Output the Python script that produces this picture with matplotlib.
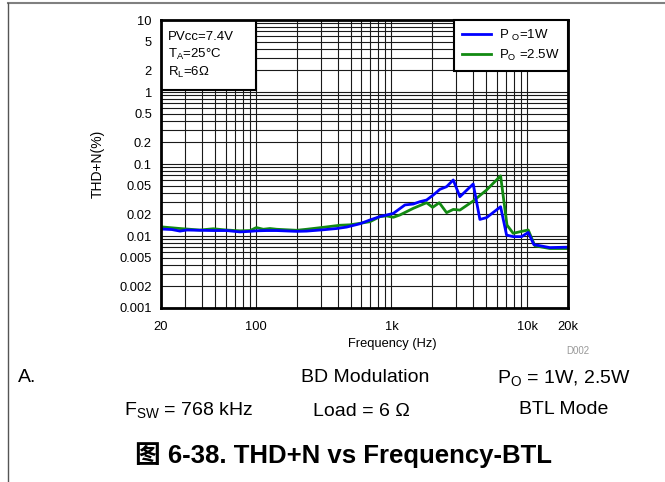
import matplotlib
matplotlib.use("Agg")
import matplotlib.pyplot as plt
from matplotlib.ticker import FixedLocator, LogLocator, NullFormatter
from matplotlib.patches import Rectangle
from matplotlib.lines import Line2D

plt.rcParams['font.family'] = ['Liberation Sans', 'DejaVu Sans']
plt.rcParams['mathtext.fontset'] = 'custom'
plt.rcParams['mathtext.rm'] = 'Liberation Sans'
plt.rcParams['mathtext.it'] = 'Liberation Sans'
plt.rcParams['mathtext.default'] = 'regular'

# THD+N vs frequency, Po = 1 W
freq_1w = [20, 24, 27.6, 31, 38.7, 48.6, 60.9, 76.4, 90.5, 101, 120, 142.5, 200, 237,
           297, 314, 394, 467, 586, 694, 822, 1031, 1256, 1446, 1621, 1814, 2032,
           2275, 2547, 2852, 3193, 4002, 4483, 5020, 6370, 7050, 7890, 9100, 10190,
           11200, 14700, 20000]
thd_1w = [0.0125, 0.0123, 0.0117, 0.0121, 0.0120, 0.0119, 0.0119, 0.0114, 0.0116,
          0.0118, 0.0119, 0.0119, 0.0116, 0.0117, 0.0121, 0.0122, 0.0127, 0.0133,
          0.0148, 0.0167, 0.0186, 0.0206, 0.0270, 0.0278, 0.0300, 0.0316, 0.0371,
          0.0445, 0.0484, 0.0600, 0.0351, 0.0528, 0.0170, 0.0180, 0.0255, 0.0103,
          0.0098, 0.0098, 0.0112, 0.0076, 0.0069, 0.0070]

# Po = 2.5 W
freq_25w = [20, 27.6, 38.7, 48.6, 60.9, 76.4, 90.5, 101, 113.5, 127, 142.5, 200, 237,
            314, 417, 494, 586, 694, 822, 921, 1031, 1154, 1446, 1814, 2010, 2250,
            2547, 2852, 3193, 4002, 5020, 6370, 7100, 7890, 9100, 10190, 11400,
            14700, 20000]
thd_25w = [0.0134, 0.0127, 0.0121, 0.0126, 0.0121, 0.0118, 0.0119, 0.0131, 0.0124,
           0.0127, 0.0124, 0.0120, 0.0124, 0.0132, 0.0141, 0.0143, 0.0150, 0.0158,
           0.0186, 0.0190, 0.0182, 0.0196, 0.0242, 0.0290, 0.0250, 0.0290, 0.0211,
           0.0234, 0.0229, 0.0306, 0.0435, 0.0685, 0.0142, 0.0109, 0.0116, 0.0121,
           0.0073, 0.0067, 0.0067]

x_ticks = [20, 100, 1000, 10000, 20000]
x_labels = ['20', '100', '1k', '10k', '20k']
y_ticks = [0.001, 0.002, 0.005, 0.01, 0.02, 0.05, 0.1, 0.2, 0.5, 1, 2, 5, 10]
y_labels = ['0.001', '0.002', '0.005', '0.01', '0.02', '0.05', '0.1', '0.2', '0.5',
            '1', '2', '5', '10']

W, H = 665, 482


def fx(x):
    return x / W


def fy(y):
    return 1 - y / H


fig = plt.figure(figsize=(W / 100, H / 100), dpi=100)
ax = fig.add_axes([161 / W, (H - 308) / H, 407 / W, 288 / H])

ax.plot(freq_1w, thd_1w, color='#0000ff', lw=2, label=r'P $\mathregular{{}_O}$=1W', zorder=4)
ax.plot(freq_25w, thd_25w, color='#128a12', lw=2, label=r'P$\mathregular{{}_O}$ =2.5W', zorder=3)

ax.set_xscale('log')
ax.set_yscale('log')
ax.set_xlim(20, 20000)
ax.set_ylim(0.001, 10)

ax.xaxis.set_major_locator(FixedLocator(x_ticks))
ax.set_xticklabels(x_labels)
ax.xaxis.set_minor_locator(LogLocator(base=10, subs=range(2, 10), numticks=20))
ax.xaxis.set_minor_formatter(NullFormatter())
ax.yaxis.set_major_locator(FixedLocator(y_ticks))
ax.set_yticklabels(y_labels)
ax.yaxis.set_minor_locator(LogLocator(base=10, subs=range(2, 10), numticks=20))
ax.yaxis.set_minor_formatter(NullFormatter())

ax.grid(True, which='both', color='#1a1a1a', lw=0.8)
ax.tick_params(which='both', length=0, labelsize=9.3)
ax.tick_params(axis='x', pad=9)
ax.tick_params(axis='y', pad=6.5)
for s in ax.spines.values():
    s.set_linewidth(2)
    s.set_color('black')
    s.set_zorder(6)

# condition box, upper left
ax.add_patch(Rectangle((0, 1 - 70 / 288), 95 / 407, 70 / 288, transform=ax.transAxes,
                       facecolor='white', edgecolor='black', lw=1.5, zorder=5))
cond = ['PVcc=7.4V', r'$\mathregular{T_A}$=25°C', r'$\mathregular{R_L}$=6Ω']
for i, t in enumerate(cond):
    ax.text(7 / 407, 1 - (16.7 + 18 * i) / 288, t, transform=ax.transAxes,
            fontsize=9.5, va='center', ha='left', zorder=7)

leg = ax.legend(loc='upper right', fontsize=9.5, frameon=True, fancybox=False,
                edgecolor='black', framealpha=1, borderaxespad=0, borderpad=0.6,
                labelspacing=0.35, handlelength=2.2, handletextpad=0.6)
leg.get_frame().set_linewidth(1.5)
leg.set_zorder(8)

fig.text(fx(98), fy(164), 'THD+N(%)', rotation=90, fontsize=10, ha='center', va='center')
fig.text(fx(392), fy(344), 'Frequency (Hz)', fontsize=9.3, ha='center', va='center')
fig.text(fx(578), fy(351), 'D002', fontsize=7, color='#999999', ha='center', va='center')

fig.text(fx(18), fy(378), 'A.', fontsize=14, ha='left', va='center')
fig.text(fx(365), fy(378), 'BD Modulation', fontsize=14, ha='center', va='center')
fig.text(fx(564), fy(378), r'$\mathregular{P_O}$ = 1W, 2.5W', fontsize=14, ha='center', va='center')
fig.text(fx(189), fy(410), r'$\mathregular{F_{SW}}$ = 768 kHz', fontsize=14, ha='center', va='center')
fig.text(fx(361), fy(411), 'Load = 6 Ω', fontsize=14, ha='center', va='center')
fig.text(fx(564), fy(410), 'BTL Mode', fontsize=14, ha='center', va='center')

fig.text(fx(343), fy(455), '图 6-38. THD+N vs Frequency-BTL', fontsize=18.5, fontweight='bold',
         family=['Liberation Sans', 'Noto Sans CJK SC'], ha='center', va='center')

# page frame lines
fig.add_artist(Line2D([fx(8), 1], [fy(3), fy(3)], color='#808080', lw=1.5))
fig.add_artist(Line2D([fx(8), fx(8)], [fy(3), 0], color='#555555', lw=1))

fig.savefig('out.png', dpi=100)
